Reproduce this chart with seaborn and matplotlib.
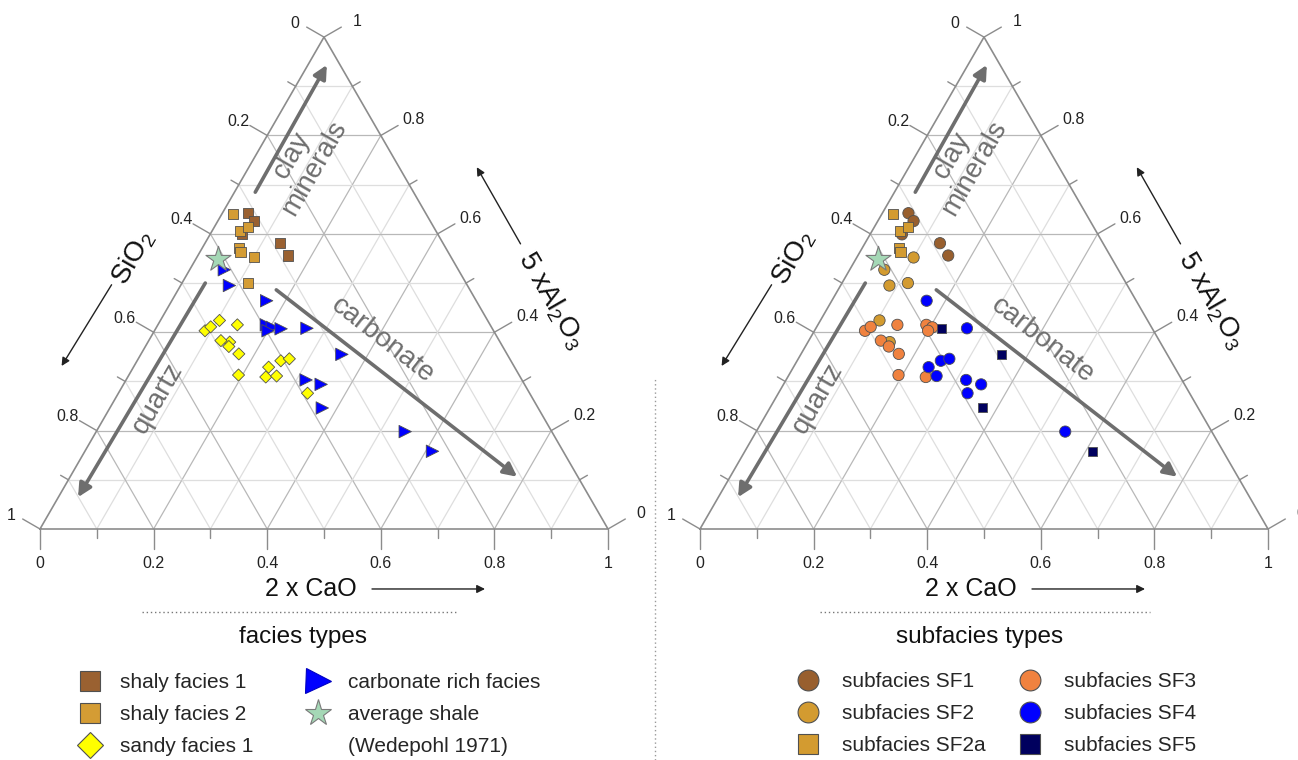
import numpy as np
import pandas as pd
import matplotlib.pyplot as plt
from matplotlib.lines import Line2D
import seaborn as sns

# ternary values: 2 x CaO and 5 x Al2O3 as fractions of
# (2CaO + 5Al2O3 + SiO2); SiO2 is what is left
cao_2x = [0.046, 0.063, 0.056, 0.132, 0.159,
          0.020, 0.049, 0.059, 0.065, 0.071,
          0.100, 0.061, 0.086, 0.116, 0.104, 0.144,
          0.089, 0.095, 0.140, 0.127, 0.147, 0.172, 0.193, 0.191, 0.204, 0.200, 0.243,
          0.167, 0.266, 0.238, 0.253, 0.266, 0.261, 0.333, 0.317, 0.348, 0.544,
          0.221, 0.354, 0.374, 0.612]
al_5x = [0.642, 0.626, 0.599, 0.581, 0.556,
         0.640, 0.606, 0.613, 0.572, 0.564,
         0.552, 0.527, 0.495, 0.500, 0.424, 0.380,
         0.403, 0.411, 0.415, 0.383, 0.371, 0.356, 0.313, 0.415, 0.410, 0.403, 0.309,
         0.464, 0.408, 0.329, 0.342, 0.346, 0.311, 0.276, 0.303, 0.294, 0.198,
         0.407, 0.355, 0.246, 0.158]
facies = ['shaly facies 1'] * 5 + ['shaly facies 2'] * 5 + \
         ['shaly facies 2', 'carbonate rich facies', 'carbonate rich facies', 'shaly facies 2',
          'sandy facies 1', 'sandy facies 1'] + \
         ['sandy facies 1'] * 7 + ['carbonate rich facies'] * 3 + ['sandy facies 1'] + \
         ['carbonate rich facies'] * 2 + ['sandy facies 1'] * 5 + ['carbonate rich facies'] * 3 + \
         ['carbonate rich facies'] * 4
subfacies = ['SF1'] * 5 + ['SF2a'] * 5 + ['SF2'] * 6 + ['SF3'] * 11 + ['SF4'] * 10 + ['SF5'] * 4

# average shale (Wedepohl 1971)
shale_cao = [0.040]
shale_al = [0.548]

tick_values = [0, 0.2, 0.4, 0.6, 0.8, 1]
tick_labels = ['0', '0.2', '0.4', '0.6', '0.8', '1']

facies_order = ['shaly facies 1', 'shaly facies 2', 'sandy facies 1', 'carbonate rich facies']
facies_colors = {'shaly facies 1': '#9a6131', 'shaly facies 2': '#d49c34',
                 'sandy facies 1': '#ffff00', 'carbonate rich facies': '#0000ff'}
facies_markers = {'shaly facies 1': 's', 'shaly facies 2': 's',
                  'sandy facies 1': 'D', 'carbonate rich facies': '>'}
facies_sizes = {'shaly facies 1': 52, 'shaly facies 2': 52,
                'sandy facies 1': 38, 'carbonate rich facies': 80}

sub_order = ['SF1', 'SF2', 'SF2a', 'SF3', 'SF4', 'SF5']
sub_colors = {'SF1': '#985f2e', 'SF2': '#d39b30', 'SF2a': '#d39b30',
              'SF3': '#f0823f', 'SF4': '#0000ff', 'SF5': '#00005e'}
sub_markers = {'SF1': 'o', 'SF2': 'o', 'SF2a': 's', 'SF3': 'o', 'SF4': 'o', 'SF5': 's'}
sub_sizes = {'SF1': 66, 'SF2': 66, 'SF2a': 52, 'SF3': 66, 'SF4': 66, 'SF5': 42}

SQ = np.sqrt(3) / 2
PX = 568.0  # triangle side in pixels


def tern(cao, al):
    cao = np.asarray(cao, dtype=float)
    al = np.asarray(al, dtype=float)
    return cao + al / 2, al * SQ


df = pd.DataFrame({'cao': cao_2x, 'al': al_5x, 'facies': facies, 'subfacies': subfacies})
df['sio2'] = 1 - df['cao'] - df['al']
df['x'], df['y'] = tern(df['cao'], df['al'])
sx, sy = tern(shale_cao, shale_al)

sns.set_style('white')
plt.rcParams['font.family'] = ['Liberation Sans', 'DejaVu Sans']
plt.rcParams['mathtext.fontset'] = 'custom'
plt.rcParams['mathtext.rm'] = 'Liberation Sans'
plt.rcParams['mathtext.it'] = 'Liberation Sans:italic'

W, H = 1298, 760
fig = plt.figure(figsize=(W / 100, H / 100), dpi=100)


def panel(left_px, origin_px):
    ax = fig.add_axes([left_px / W, 0, 649 / W, 1])
    ax.axis('off')
    return ax, ((left_px - origin_px) / PX, (left_px + 649 - origin_px) / PX)


def draw_frame(ax):
    # grid every 0.1, darker every 0.2
    for k in range(1, 10):
        v = k / 10
        col = '#b8b8b8' if k % 2 == 0 else '#dedede'
        for c_pts, a_pts in [([0, 1 - v], [v, v]), ([v, v], [0, 1 - v]), ([1 - v, 0], [0, 1 - v])]:
            x, y = tern(c_pts, a_pts)
            ax.plot(x, y, color=col, lw=0.9, zorder=1)
    x, y = tern([0, 1, 0, 0], [0, 0, 1, 0])
    ax.plot(x, y, color='#8c8c8c', lw=1.2, zorder=2)
    for k in range(11):
        v = k / 10
        L = (20 if k % 2 == 0 else 9) / PX
        bx, by = tern(v, 0)
        lx, ly = tern(0, 1 - v)
        rx, ry = tern(1 - v, v)
        kw = dict(color='#8c8c8c', lw=1.0, zorder=2)
        ax.plot([bx, bx], [by, by - L], **kw)
        ax.plot([lx, lx - L * SQ], [ly, ly + L * 0.5], **kw)
        ax.plot([rx, rx + L * SQ], [ry, ry + L * 0.5], **kw)
    for v, lab in zip(tick_values, tick_labels):
        tk = dict(fontsize=11.5, color='#222222', ha='center', va='center')
        bx, by = tern(v, 0)
        lx, ly = tern(0, 1 - v)
        rx, ry = tern(1 - v, v)
        ax.text(bx, by - 34 / PX, lab, **tk)
        ax.text(lx - 29 / PX, ly + 14 / PX, lab, **tk)
        ax.text(rx + 33 / PX, ry + 15.5 / PX, lab, **tk)


def draw_guides(ax, title, dot_from, dot_to, title_x):
    grey = '#6e6e6e'
    thick = dict(arrowstyle='-|>', color=grey, lw=2.6, mutation_scale=20, shrinkA=0, shrinkB=0)
    ax.annotate('', xy=(0.505, 0.817), xytext=(0.379, 0.593), arrowprops=thick)
    ax.annotate('', xy=(0.067, 0.056), xytext=(0.291, 0.433), arrowprops=thick)
    ax.annotate('', xy=(0.840, 0.092), xytext=(0.416, 0.421), arrowprops=thick)
    ax.text(0.463, 0.646, 'clay\nminerals', rotation=60, color=grey, fontsize=20,
            ha='center', va='center', ma='center', rotation_mode='anchor', linespacing=1.0)
    ax.text(0.208, 0.231, 'quartz', rotation=60, color=grey, fontsize=20,
            ha='center', va='center', rotation_mode='anchor')
    ax.text(0.604, 0.333, 'carbonate', rotation=-38, color=grey, fontsize=20,
            ha='center', va='center', rotation_mode='anchor')

    thin = dict(arrowstyle='-|>', color='#222222', lw=1.0, mutation_scale=12, shrinkA=0, shrinkB=0)
    ax.text(0.164, 0.477, 'SiO$_2$', rotation=60, fontsize=20, color='#111111',
            ha='center', va='center', rotation_mode='anchor')
    ax.annotate('', xy=(0.038, 0.287), xytext=(0.126, 0.430), arrowprops=thin)
    ax.text(0.900, 0.403, '5 xAl$_2$O$_3$', rotation=-60, fontsize=20, color='#111111',
            ha='center', va='center', rotation_mode='anchor')
    ax.annotate('', xy=(0.769, 0.637), xytext=(0.846, 0.502), arrowprops=thin)
    ax.text(0.396, -0.1056, '2 x CaO', fontsize=18, color='#111111', ha='left', va='center')
    ax.annotate('', xy=(0.7835, -0.1056), xytext=(0.5845, -0.1056), arrowprops=thin)
    ax.plot([dot_from, dot_to], [-0.146, -0.146], color='#777777', lw=1.0, ls=(0, (1, 2)))
    ax.text(title_x, -0.190, title, fontsize=17.5, color='#111111', ha='center', va='center')


axL, limL = panel(0, 40)
axR, limR = panel(649, 700)
for ax in (axL, axR):
    draw_frame(ax)

sns.scatterplot(data=df, x='x', y='y', hue='facies', style='facies', size='facies',
                hue_order=facies_order, style_order=facies_order, size_order=facies_order,
                palette=facies_colors, markers=facies_markers, sizes=facies_sizes,
                edgecolor='#505050', linewidth=0.6, legend=False, ax=axL, zorder=5)
sns.scatterplot(data=df, x='x', y='y', hue='subfacies', style='subfacies', size='subfacies',
                hue_order=sub_order, style_order=sub_order, size_order=sub_order,
                palette=sub_colors, markers=sub_markers, sizes=sub_sizes,
                edgecolor='#505050', linewidth=0.6, legend=False, ax=axR, zorder=5)
for ax in (axL, axR):
    sns.scatterplot(x=sx, y=sy, marker='*', s=360, color='#a5d8b6', edgecolor='#7a7a7a',
                    linewidth=0.8, legend=False, ax=ax, zorder=6)

draw_guides(axL, 'facies types', 0.180, 0.736, 0.463)
draw_guides(axR, 'subfacies types', 0.211, 0.792, 0.493)

for ax, lim in ((axL, limL), (axR, limR)):
    ax.set_xlim(*lim)
    ax.set_ylim((529 - 760) / PX, 529 / PX)
    ax.set_xlabel('')
    ax.set_ylabel('')


def handle(marker, color, ms, edge='#505050'):
    return Line2D([], [], ls='none', marker=marker, markersize=ms, markerfacecolor=color,
                  markeredgecolor=edge, markeredgewidth=0.8)


left_handles = [handle('s', facies_colors['shaly facies 1'], 14),
                handle('s', facies_colors['shaly facies 2'], 14),
                handle('D', facies_colors['sandy facies 1'], 13),
                handle('>', facies_colors['carbonate rich facies'], 18, edge='#0000c0'),
                handle('*', '#a5d8b6', 20, edge='#7a7a7a'),
                Line2D([], [], ls='none', marker='')]
left_labels = ['shaly facies 1', 'shaly facies 2', 'sandy facies 1',
               'carbonate rich facies', 'average shale', '(Wedepohl 1971)']
fig.legend(left_handles, left_labels, ncol=2, loc='upper left',
           bbox_to_anchor=(79.5 / W, 1 - 673 / H), frameon=False, fontsize=15,
           handlelength=1.0, handletextpad=0.95, columnspacing=2.6, labelspacing=0.62,
           borderpad=0, borderaxespad=0)

right_handles = [handle(sub_markers[s], sub_colors[s], 15 if sub_markers[s] == 'o' else 14)
                 for s in ['SF1', 'SF2', 'SF2a', 'SF3', 'SF4', 'SF5']]
right_labels = ['subfacies ' + s for s in ['SF1', 'SF2', 'SF2a', 'SF3', 'SF4', 'SF5']]
fig.legend(right_handles, right_labels, ncol=2, loc='upper left',
           bbox_to_anchor=(797.5 / W, 1 - 672 / H), frameon=False, fontsize=15,
           handlelength=1.0, handletextpad=1.15, columnspacing=1.6, labelspacing=0.62,
           borderpad=0, borderaxespad=0)

fig.add_artist(Line2D([655 / W, 655 / W], [0, 1 - 378 / H], transform=fig.transFigure,
                      color='#999999', lw=1.0, ls=(0, (1, 2))))

fig.savefig('out.png', dpi=100)
